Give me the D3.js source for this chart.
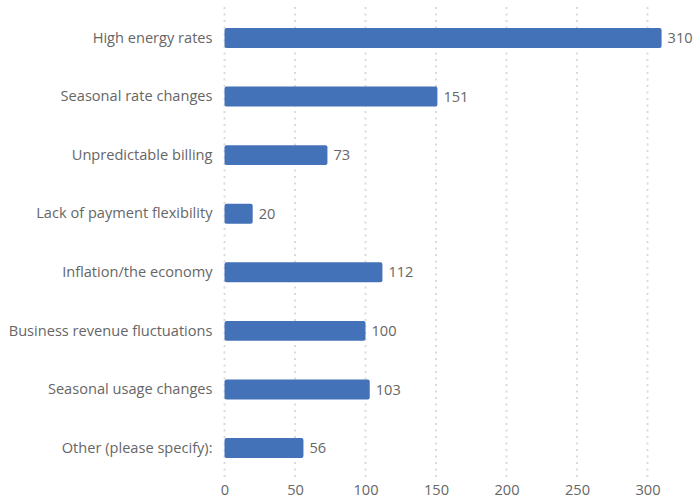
<!DOCTYPE html>
<html>
<head>
<meta charset="utf-8">
<script src="https://cdn.jsdelivr.net/npm/d3@7"></script>
<style>
  html, body { margin: 0; padding: 0; background: #fff; }
  svg { display: block; font-family: "Open Sans", "Noto Sans", sans-serif; }
</style>
</head>
<body>
<svg id="chart" width="695" height="501"></svg>
<script>
// Survey responses: concerns about energy costs
const categories = [
  "High energy rates",
  "Seasonal rate changes",
  "Unpredictable billing",
  "Lack of payment flexibility",
  "Inflation/the economy",
  "Business revenue fluctuations",
  "Seasonal usage changes",
  "Other (please specify):"
];
const counts = [310, 151, 73, 20, 112, 100, 103, 56];
const xTicks = [0, 50, 100, 150, 200, 250, 300];

const svg = d3.select("#chart");
const plotLeft = 224.5, plotRight = 647.5;
const plotTop = 8.7, plotBottom = 477.3;
const fontSize = 14.6;
const textColor = "#666";

const x = d3.scaleLinear().domain([0, 300]).range([plotLeft, plotRight]);
const y = d3.scaleBand().domain(categories).range([plotTop, plotBottom]).paddingInner(0.66).paddingOuter(0.33);

// dotted vertical gridlines
svg.append("g")
  .selectAll("line")
  .data(xTicks)
  .join("line")
  .attr("x1", d => x(d)).attr("x2", d => x(d))
  .attr("y1", 7).attr("y2", 478)
  .attr("stroke", "#d8d8d8")
  .attr("stroke-width", 1.8)
  .attr("stroke-dasharray", "2,4.5");

// x-axis tick labels
const xAxis = d3.axisBottom(x).tickValues(xTicks).tickSize(0).tickPadding(0);
const gx = svg.append("g").attr("transform", "translate(0,484)").call(xAxis);
gx.select(".domain").remove();
gx.selectAll("text")
  .attr("fill", textColor)
  .attr("font-size", fontSize)
  .attr("font-family", "\"Open Sans\", sans-serif")
  .attr("dy", "0.72em");

// category labels
const yAxis = d3.axisLeft(y).tickSize(0).tickPadding(12);
const gy = svg.append("g").attr("transform", `translate(${plotLeft},0)`).call(yAxis);
gy.select(".domain").remove();
gy.selectAll("text")
  .attr("fill", textColor)
  .attr("font-size", fontSize)
  .attr("font-family", "\"Open Sans\", sans-serif");

// bars
svg.append("g")
  .selectAll("rect")
  .data(categories)
  .join("rect")
  .attr("x", x(0))
  .attr("y", d => y(d))
  .attr("width", (d, i) => x(counts[i]) - x(0))
  .attr("height", y.bandwidth())
  .attr("rx", 2)
  .attr("fill", "#4472b8");

// value labels
svg.append("g")
  .selectAll("text")
  .data(categories)
  .join("text")
  .attr("x", (d, i) => x(counts[i]) + 6)
  .attr("y", d => y(d) + y.bandwidth() / 2)
  .attr("dy", "0.35em")
  .attr("fill", textColor)
  .attr("font-size", fontSize)
  .text((d, i) => counts[i]);
</script>
</body>
</html>
